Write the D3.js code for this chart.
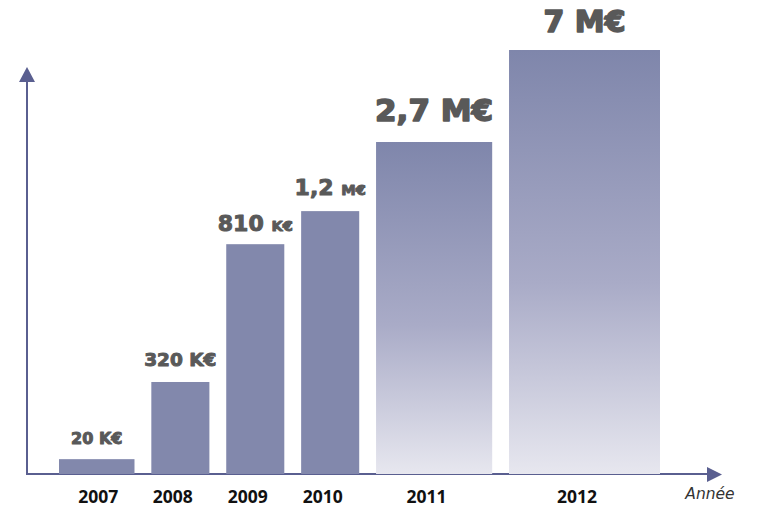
<!DOCTYPE html>
<html>
<head>
<meta charset="utf-8">
<script src="https://cdn.jsdelivr.net/npm/d3@7/dist/d3.min.js"></script>
<style>
  html, body { margin: 0; padding: 0; background: #ffffff; }
  svg { display: block; }
</style>
</head>
<body>
<svg id="chart" width="759" height="509"></svg>
<script>
// ---- data ----
const years = ["2007", "2008", "2009", "2010", "2011", "2012"];
const revenueEUR = [20000, 320000, 810000, 1200000, 2700000, 7000000];
const amountText = ["20", "320", "810", "1,2", "2,7", "7"];
const unitText = ["K€", "K€", "K€", "M€", "M€", "M€"];
// schematic bar heights, % of the tallest bar (the picture is not to scale)
const barLevel = [3.5, 21.7, 54.2, 62.0, 78.3, 100];
// relative bar widths as drawn
const barWidthWeight = [1.3, 1, 1, 1, 2, 2.6];

// ---- styling ----
const amountSize = [16, 18.5, 22, 22, 31, 30];
const unitSize = [16, 18.5, 14.5, 14.5, 31, 30];
const labelGap = [15, 16, 13, 16, 21, 18];
const fadeFill = [false, false, false, false, true, true];
const solidColor = "#8288ac";
const axisColor = "#5a5f90";

const svg = d3.select("#chart");
const defs = svg.append("defs");
const grad = defs.append("linearGradient")
  .attr("id", "fade").attr("x1", 0).attr("y1", 0).attr("x2", 0).attr("y2", 1);
grad.append("stop").attr("offset", "0%").attr("stop-color", "#7f86ab");
grad.append("stop").attr("offset", "55%").attr("stop-color", "#a9abc7");
grad.append("stop").attr("offset", "100%").attr("stop-color", "#e7e7ef");

const baseY = 474, topY = 50;
const gapUnits = 0.29;
const starts = [];
let acc = 0;
barWidthWeight.forEach((w, i) => { starts.push(acc); acc += w + (i < barWidthWeight.length - 1 ? gapUnits : 0); });
const x = d3.scaleLinear().domain([0, acc]).range([59, 660]);
const y = d3.scaleLinear().domain([0, 100]).range([baseY, topY]);

const data = years.map((yr, i) => ({
  year: yr, value: revenueEUR[i], level: barLevel[i],
  x0: starts[i], x1: starts[i] + barWidthWeight[i],
  amount: amountText[i], unit: unitText[i], i
}));

// ---- axes (arrows) ----
const axisX0 = 27;
svg.append("line").attr("x1", axisX0).attr("x2", 708).attr("y1", baseY).attr("y2", baseY)
  .attr("stroke", axisColor).attr("stroke-width", 2);
svg.append("path").attr("d", `M707,467 L722,474.5 L707,482 Z`).attr("fill", axisColor);
svg.append("line").attr("x1", axisX0).attr("x2", axisX0).attr("y1", baseY + 1).attr("y2", 81)
  .attr("stroke", axisColor).attr("stroke-width", 2);
svg.append("path").attr("d", `M19,82 L27,67 L35,82 Z`).attr("fill", axisColor);

// ---- bars ----
svg.append("g").selectAll("rect").data(data).join("rect")
  .attr("x", d => x(d.x0))
  .attr("width", d => x(d.x1) - x(d.x0))
  .attr("y", d => y(d.level))
  .attr("height", d => y(0) - y(d.level))
  .attr("fill", d => fadeFill[d.i] ? "url(#fade)" : solidColor);

// ---- value labels ----
const vl = svg.append("g").selectAll("text").data(data).join("text")
  .attr("x", d => (x(d.x0) + x(d.x1)) / 2)
  .attr("y", d => y(d.level) - labelGap[d.i])
  .attr("text-anchor", "middle")
  .attr("font-family", "'DejaVu Sans', sans-serif")
  .attr("font-weight", 700)
  .attr("fill", "#595959")
  .attr("stroke", "#595959")
  .attr("stroke-width", d => d.i >= 4 ? 1.6 : 1)
  .attr("stroke-linejoin", "round");
vl.append("tspan").attr("font-size", d => amountSize[d.i]).text(d => d.amount + " ");
vl.append("tspan").attr("font-size", d => unitSize[d.i]).text(d => d.unit);

// ---- year labels ----
const yearPos = d3.scaleOrdinal().domain(years)
  .range(data.map(d => (x(d.x0) + x(d.x1)) / 2 + (d.i === 0 ? 1 : -8)));
const xAxis = svg.append("g").attr("transform", `translate(0,${baseY})`)
  .call(d3.axisBottom(yearPos).tickSize(0).tickPadding(17));
xAxis.select(".domain").remove();
xAxis.selectAll("text")
  .attr("font-family", "'Open Sans', sans-serif")
  .attr("font-weight", 700)
  .attr("font-size", 17.5)
  .attr("fill", "#111");

svg.append("text").attr("x", 710).attr("y", 499).attr("text-anchor", "middle")
  .attr("font-family", "'DejaVu Sans', sans-serif").attr("font-style", "italic")
  .attr("font-size", 15.5).attr("fill", "#333").text("Année");
</script>
</body>
</html>
